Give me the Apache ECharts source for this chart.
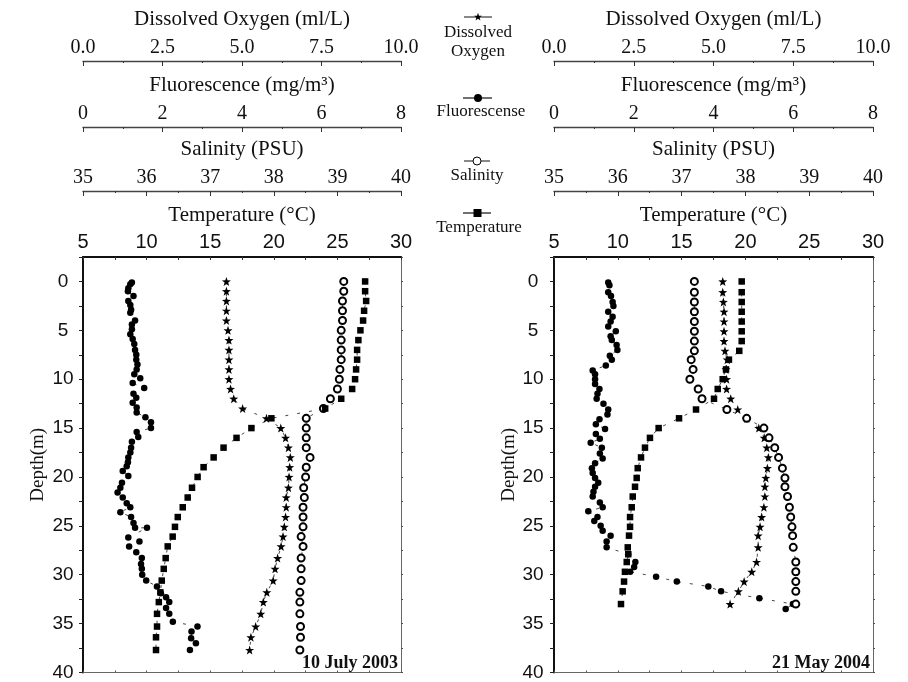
<!DOCTYPE html>
<html>
<head>
<meta charset="utf-8">
<script src="https://cdn.jsdelivr.net/npm/echarts@6/dist/echarts.min.js"></script>
<style>
  html, body { margin: 0; padding: 0; background: #fff; }
  #chart { width: 908px; height: 682px; }
</style>
</head>
<body>
<div id="chart"></div>
<script>
// 10 July 2003 profile (DO, salinity, temperature share depths)
const julDepth = [0, 1, 2, 3, 4, 5, 6, 7, 8, 9, 10, 11, 12, 13, 14, 15, 16, 17, 18, 19, 20,
  21.1, 22.1, 23.1, 24.1, 25.1, 26.1, 27.1, 28.3, 29.4, 30.6, 31.8, 32.8, 34.0, 35.3, 36.4, 37.7];
const julOxygen = [4.51, 4.51, 4.51, 4.51, 4.51, 4.56, 4.59, 4.59, 4.59, 4.59, 4.59, 4.64, 4.74, 5.02, 5.77,
  6.22, 6.37, 6.46, 6.52, 6.50, 6.48, 6.46, 6.39, 6.39, 6.37, 6.33, 6.29, 6.23, 6.12, 6.04, 5.98,
  5.78, 5.67, 5.59, 5.43, 5.28, 5.24];
const julSalinity = [39.10, 39.10, 39.08, 39.08, 39.08, 39.06, 39.06, 39.06, 39.06, 39.04, 39.03, 39.00,
  38.89, 38.78, 38.51, 38.51, 38.51, 38.51, 38.57, 38.51, 38.50, 38.47, 38.48, 38.46, 38.46, 38.46,
  38.43, 38.46, 38.43, 38.43, 38.43, 38.41, 38.41, 38.41, 38.42, 38.42, 38.41];
const julTemp = [27.18, 27.18, 27.26, 27.10, 27.02, 26.81, 26.65, 26.55, 26.55, 26.47, 26.39, 26.16, 25.30,
  24.04, 19.81, 18.24, 17.07, 16.05, 15.27, 14.48, 14.01, 13.57, 13.23, 12.84, 12.45, 12.23, 12.05,
  11.66, 11.50, 11.35, 11.19, 11.08, 10.96, 10.82, 10.82, 10.74, 10.74];
const julFluorDepth = [0.1, 0.3, 0.7, 1.0, 1.5, 2.0, 2.4, 2.9, 3.2, 4.0, 4.4, 4.9, 5.4, 5.9, 6.4, 7.0, 7.5,
  8.0, 8.5, 9.0, 9.5, 9.9, 10.4, 10.9, 11.5, 11.9, 12.4, 12.9, 13.4, 13.9, 14.4, 15.0, 15.4, 15.9,
  16.4, 17.0, 17.5, 18.0, 18.5, 18.9, 19.4, 19.9, 20.6, 21.1, 21.6, 22.1, 22.7, 23.1, 23.6, 24.1,
  24.7, 25.2, 25.2, 26.2, 26.6, 27.1, 27.7, 28.3, 28.9, 29.4, 30.0, 30.6, 31.2, 31.9, 32.3, 32.8,
  33.4, 34.0, 34.8, 35.3, 35.8, 36.5, 37.0, 37.7];
const julFluor = [1.23, 1.19, 1.14, 1.13, 1.27, 1.14, 1.19, 1.21, 1.19, 1.31, 1.23, 1.23, 1.19, 1.25, 1.29,
  1.31, 1.34, 1.34, 1.37, 1.35, 1.29, 1.44, 1.25, 1.54, 1.27, 1.34, 1.25, 1.35, 1.35, 1.57, 1.71,
  1.71, 1.35, 1.39, 1.23, 1.21, 1.19, 1.14, 1.13, 1.10, 1.00, 1.14, 0.98, 0.94, 0.87, 1.00, 1.10,
  1.19, 0.94, 1.21, 1.27, 1.31, 1.61, 1.14, 1.42, 1.16, 1.34, 1.48, 1.46, 1.48, 1.49, 1.59, 1.86,
  1.96, 2.09, 2.17, 2.09, 2.17, 2.26, 2.88, 2.73, 2.72, 2.84, 2.69];

// 21 May 2004 profile
const mayDepth = [0, 1.1, 2.1, 3.1, 4.1, 5.1, 6.1, 7.1, 8.0, 9.0, 10, 11, 12, 13.1, 14, 15, 16, 17, 18,
  19.1, 20.1, 21, 22, 23.1, 24.1, 25.1, 26, 27.2, 28.7, 29.7, 30.7, 31.7, 33.0];
const mayOxygen = [5.29, 5.29, 5.31, 5.33, 5.33, 5.33, 5.33, 5.36, 5.43, 5.39, 5.41, 5.41, 5.54, 5.76, 6.04,
  6.42, 6.59, 6.67, 6.72, 6.69, 6.64, 6.61, 6.61, 6.58, 6.51, 6.46, 6.40, 6.40, 6.35, 6.20, 5.96,
  5.78, 5.52];
const maySalinity = [37.20, 37.20, 37.20, 37.20, 37.20, 37.20, 37.20, 37.20, 37.15, 37.18, 37.13, 37.26,
  37.32, 37.71, 38.02, 38.29, 38.37, 38.46, 38.52, 38.58, 38.62, 38.62, 38.66, 38.69, 38.71, 38.73,
  38.74, 38.75, 38.79, 38.79, 38.79, 38.79, 38.79];
const mayTempDepth = [0, 1.1, 2.1, 3.1, 4.1, 5.1, 6.1, 7.1, 8.0, 9.0, 10, 11, 12, 13.1, 14, 15, 16, 17, 18,
  19.1, 20.1, 21, 22, 23.1, 24.1, 25.1, 26, 27.2, 27.9, 28.7, 29.7, 30.7, 31.7, 33.0];
const mayTemp = [19.71, 19.71, 19.71, 19.71, 19.71, 19.71, 19.71, 19.52, 18.71, 18.48, 18.22, 17.83, 17.54,
  16.13, 14.80, 13.20, 12.52, 12.13, 11.82, 11.56, 11.48, 11.35, 11.17, 11.09, 10.96, 10.96, 10.88,
  10.78, 10.82, 10.70, 10.56, 10.49, 10.38, 10.25];
const mayFluorDepth = [0.1, 0.4, 1.1, 1.5, 2.1, 2.5, 3.1, 3.6, 4.1, 4.6, 5.1, 5.6, 6.0, 6.5, 7.0, 7.6, 8.0,
  8.6, 9.1, 9.5, 10.0, 10.5, 11.0, 11.5, 12.0, 12.5, 13.1, 13.6, 14.1, 14.6, 15.1, 15.6, 16.1, 16.5,
  17.0, 17.6, 18.1, 18.6, 19.1, 19.6, 20.1, 20.6, 21.0, 21.5, 22.0, 22.6, 23.1, 23.5, 24.1, 24.5,
  25.0, 25.5, 26.0, 26.6, 27.2, 27.9, 28.7, 29.2, 29.7, 30.2, 30.7, 31.2, 31.7, 32.4, 33.0, 33.5];
const mayFluor = [1.36, 1.39, 1.36, 1.43, 1.47, 1.49, 1.36, 1.47, 1.42, 1.36, 1.55, 1.42, 1.45, 1.57, 1.59,
  1.40, 1.45, 1.30, 0.97, 1.03, 1.03, 1.03, 1.14, 1.09, 1.07, 1.24, 1.36, 1.34, 1.14, 1.05, 1.28,
  1.05, 1.15, 0.92, 1.20, 1.15, 1.22, 1.03, 0.95, 0.97, 1.03, 1.11, 1.03, 0.99, 0.97, 1.15, 1.22,
  0.86, 1.09, 1.01, 1.17, 1.22, 1.42, 1.32, 1.32, 1.86, 2.04, 2.01, 1.91, 2.56, 3.08, 3.87, 4.19,
  5.15, 5.99, 5.81];

const dates = ['10 July 2003', '21 May 2004'];
const legendNames = ['Dissolved', 'Oxygen', 'Fluorescense', 'Salinity', 'Temperature'];

const SERIF = '"Liberation Serif", "Times New Roman", serif';
const SANS = '"Liberation Sans", Arial, sans-serif';
const STAR_PTS = [[0, -10], [2.35, -3.24], [9.51, -3.09], [3.8, 1.24], [5.88, 8.09], [0, 4.2],
  [-5.88, 8.09], [-3.8, 1.24], [-9.51, -3.09], [-2.35, -3.24]];
const STAR = 'path://M' + STAR_PTS.map(p => p.join(',')).join('L') + 'Z';

const grids = [
  { left: 83, top: 257, width: 318, height: 416 },
  { left: 554, top: 257, width: 319, height: 416 }
];

function zip(vals, depths) {
  return vals.map((v, i) => [v, depths[i]]);
}

function topAxis(g, offset, min, max, interval, name, fmt, main) {
  return {
    type: 'value', gridIndex: g, position: 'top', offset: offset,
    min: min, max: max, interval: interval,
    name: name, nameLocation: 'middle', nameGap: 31,
    nameTextStyle: { fontFamily: SERIF, fontSize: 21, color: '#111' },
    axisLine: { show: true, onZero: false, lineStyle: { color: main ? '#111' : '#444', width: main ? 2 : 1.3 } },
    axisTick: { show: true, inside: true, length: main ? 3 : 5, lineStyle: { color: '#333' } },
    minorTick: { show: true, splitNumber: 2, length: main ? 3 : 2, lineStyle: { color: '#333' } },
    splitLine: { show: false },
    axisLabel: {
      margin: main ? 5 : 3, color: '#111',
      fontFamily: main ? SANS : SERIF, fontSize: 20,
      formatter: fmt
    }
  };
}

const xAxes = [];
const yAxes = [];
const series = [];

grids.forEach((gr, g) => {
  xAxes.push(topAxis(g, 196, 0, 10, 2.5, 'Dissolved Oxygen (ml/L)', v => v.toFixed(1), false));
  xAxes.push(topAxis(g, 130, 0, 8, 2, 'Fluorescence (mg/m³)', v => String(v), false));
  xAxes.push(topAxis(g, 66, 35, 40, 1, 'Salinity (PSU)', v => String(v), false));
  xAxes.push(topAxis(g, 0, 5, 30, 5, 'Temperature (°C)', v => String(v), true));
  xAxes.push({
    type: 'value', gridIndex: g, position: 'bottom', min: 5, max: 30, interval: 2.5,
    axisLine: { onZero: false, lineStyle: { color: '#666', width: 1 } },
    axisTick: { inside: true, length: 2, lineStyle: { color: '#555' } },
    axisLabel: { show: false }, splitLine: { show: false }
  });
  yAxes.push({
    type: 'value', gridIndex: g, position: 'left', inverse: true,
    min: -2.5, max: 40, interval: 2.5,
    name: 'Depth(m)', nameLocation: 'middle', nameGap: 35,
    nameTextStyle: { fontFamily: SERIF, fontSize: 19, color: '#111' },
    axisLine: { onZero: false, lineStyle: { color: '#111', width: 2 } },
    axisTick: { length: 4, lineStyle: { color: '#222' } },
    splitLine: { show: false },
    axisLabel: {
      margin: 20 + g, align: 'center', color: '#111', fontFamily: SANS, fontSize: 19,
      formatter: v => (v >= 0 && v % 5 === 0) ? String(v) : ''
    }
  });
  yAxes.push({
    type: 'value', gridIndex: g, position: 'right', inverse: true,
    min: -2.5, max: 40, interval: 2.5,
    axisLine: { show: true, onZero: false, lineStyle: { color: '#666', width: 1 } },
    axisTick: { show: true, length: 2, lineStyle: { color: '#555' } },
    axisLabel: { show: false }, splitLine: { show: false }
  });
});

const profiles = [
  { oxy: zip(julOxygen, julDepth), fl: zip(julFluor, julFluorDepth), sal: zip(julSalinity, julDepth), temp: zip(julTemp, julDepth) },
  { oxy: zip(mayOxygen, mayDepth), fl: zip(mayFluor, mayFluorDepth), sal: zip(maySalinity, mayDepth), temp: zip(mayTemp, mayTempDepth) }
];

const lineStyle = { color: '#333', width: 0.9, type: [3, 9] };

profiles.forEach((p, g) => {
  const base = {
    type: 'line', yAxisIndex: g * 2, animation: false, showSymbol: true,
    lineStyle: lineStyle, emphasis: { disabled: true }
  };
  series.push(Object.assign({}, base, {
    name: 'Dissolved Oxygen', xAxisIndex: g * 5, data: p.oxy,
    symbol: STAR, symbolSize: 9, itemStyle: { color: '#000' }
  }));
  series.push(Object.assign({}, base, {
    name: 'Fluorescense', xAxisIndex: g * 5 + 1, data: p.fl,
    symbol: 'circle', symbolSize: 6.5, itemStyle: { color: '#000' }
  }));
  series.push(Object.assign({}, base, {
    name: 'Salinity', xAxisIndex: g * 5 + 2, data: p.sal,
    symbol: 'emptyCircle', symbolSize: 7,
    itemStyle: { color: '#000', borderWidth: 1 }
  }));
  series.push(Object.assign({}, base, {
    name: 'Temperature', xAxisIndex: g * 5 + 3, data: p.temp,
    symbol: 'rect', symbolSize: 6.5, itemStyle: { color: '#000' }
  }));
});

function legendText(text, x, y) {
  return { type: 'text', x: x, y: y, style: { text: text, fontFamily: SERIF, fontSize: 17, fill: '#111', align: 'center', verticalAlign: 'middle' } };
}

const graphic = [
  { type: 'line', shape: { x1: 464, y1: 17, x2: 492, y2: 17 }, style: { stroke: '#111', lineWidth: 1 } },
  { type: 'polygon', x: 478, y: 17, scaleX: 0.42, scaleY: 0.42, shape: { points: STAR_PTS }, style: { fill: '#000' } },
  legendText(legendNames[0], 478, 33),
  legendText(legendNames[1], 478, 52),
  { type: 'line', shape: { x1: 463, y1: 98, x2: 492, y2: 98 }, style: { stroke: '#111', lineWidth: 1.2 } },
  { type: 'circle', shape: { cx: 478, cy: 98, r: 4 }, style: { fill: '#000' } },
  legendText(legendNames[2], 481, 112),
  { type: 'line', shape: { x1: 464, y1: 161, x2: 490, y2: 161 }, style: { stroke: '#111', lineWidth: 1 } },
  { type: 'circle', shape: { cx: 477, cy: 161, r: 4 }, style: { fill: '#fff', stroke: '#000', lineWidth: 1 } },
  legendText(legendNames[3], 477, 176),
  { type: 'line', shape: { x1: 463, y1: 213, x2: 491, y2: 213 }, style: { stroke: '#111', lineWidth: 1.2 } },
  { type: 'rect', shape: { x: 473.5, y: 209, width: 8, height: 8 }, style: { fill: '#000' } },
  legendText(legendNames[4], 479, 228),
  { type: 'text', x: 398, y: 663, style: { text: dates[0], align: 'right', verticalAlign: 'middle', fontFamily: SERIF, fontSize: 18, fontWeight: 'bold', fill: '#111' } },
  { type: 'text', x: 870, y: 663, style: { text: dates[1], align: 'right', verticalAlign: 'middle', fontFamily: SERIF, fontSize: 18, fontWeight: 'bold', fill: '#111' } }
];

const chart = echarts.init(document.getElementById('chart'), null, { renderer: 'canvas' });
chart.setOption({
  backgroundColor: '#fff',
  animation: false,
  grid: grids,
  xAxis: xAxes,
  yAxis: yAxes,
  series: series,
  graphic: graphic
});
</script>
</body>
</html>
